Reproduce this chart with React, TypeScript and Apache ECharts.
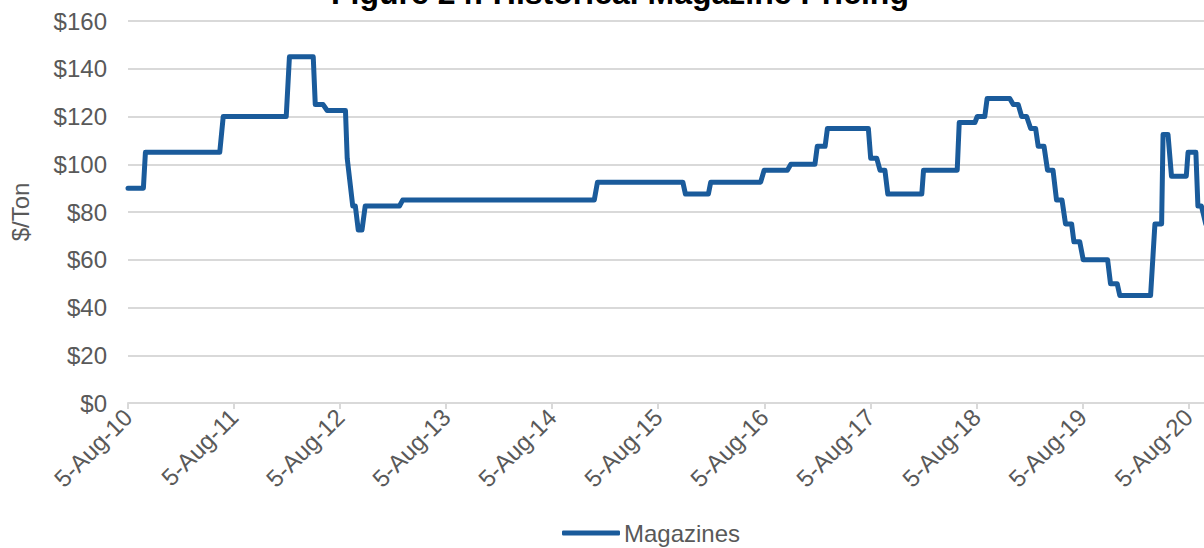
import React, { useEffect, useRef } from "react";
import * as echarts from "echarts";

const titleText = "Figure 24: Historical Magazine Pricing";
const seriesName = "Magazines";
const yAxisName = "$/Ton";
const startDate = "2010-08-05";
const endDate = "2020-09-27";
const xTickLabels = [
  "5-Aug-10", "5-Aug-11", "5-Aug-12", "5-Aug-13", "5-Aug-14", "5-Aug-15",
  "5-Aug-16", "5-Aug-17", "5-Aug-18", "5-Aug-19", "5-Aug-20",
];
const yMin = 0;
const yMax = 160;
const yStep = 20;

const dates = [
  "2010-08-05", "2010-09-27", "2010-10-04", "2011-06-17", "2011-06-29",
  "2012-02-01", "2012-02-12", "2012-05-04", "2012-05-11", "2012-06-07",
  "2012-06-21", "2012-08-23", "2012-08-29", "2012-09-17", "2012-09-26",
  "2012-10-06", "2012-10-19", "2012-10-30", "2013-02-25", "2013-03-08",
  "2014-12-28", "2015-01-08", "2015-10-29", "2015-11-07", "2016-01-25",
  "2016-02-02", "2016-07-23", "2016-08-04", "2016-10-23", "2016-11-04",
  "2017-01-26", "2017-02-03", "2017-03-02", "2017-03-10", "2017-07-29",
  "2017-08-06", "2017-08-27", "2017-09-07", "2017-09-24", "2017-10-04",
  "2018-01-29", "2018-02-04", "2018-05-31", "2018-06-07", "2018-07-31",
  "2018-08-08", "2018-09-03", "2018-09-11", "2018-11-28", "2018-12-10",
  "2018-12-27", "2019-01-08", "2019-01-25", "2019-02-08", "2019-02-25",
  "2019-03-06", "2019-03-26", "2019-04-07", "2019-04-26", "2019-05-08",
  "2019-05-27", "2019-06-08", "2019-06-29", "2019-07-07", "2019-07-27",
  "2019-08-08", "2019-10-31", "2019-11-10", "2019-12-03", "2019-12-12",
  "2020-03-27", "2020-04-11", "2020-05-04", "2020-05-09", "2020-05-26",
  "2020-06-07", "2020-07-28", "2020-08-03", "2020-08-30", "2020-09-06",
  "2020-09-18", "2020-10-03",
];
const prices = [
  90, 90, 105, 105, 120,
  120, 145, 145, 125, 125,
  122.5, 122.5, 102.5, 82.5, 82.5,
  72.5, 72.5, 82.5, 82.5, 85,
  85, 92.5, 92.5, 87.5, 87.5,
  92.5, 92.5, 97.5, 97.5, 100,
  100, 107.5, 107.5, 115, 115,
  102.5, 102.5, 97.5, 97.5, 87.5,
  87.5, 97.5, 97.5, 117.5, 117.5,
  120, 120, 127.5, 127.5, 125,
  125, 120, 120, 115, 115,
  107.5, 107.5, 97.5, 97.5, 85,
  85, 75, 75, 67.5, 67.5,
  60, 60, 50, 50, 45,
  45, 75, 75, 112.5, 112.5,
  95, 95, 105, 105, 82.5,
  82.5, 75,
];

const DAY = 86400000;
const YEAR_DAYS = 365.25;
const toDays = (d: string) => (Date.parse(d + "T00:00:00Z") - Date.parse(startDate + "T00:00:00Z")) / DAY;

export default function App() {
  const ref = useRef<HTMLDivElement>(null);
  useEffect(() => {
    if (!ref.current) return;
    const chart = echarts.init(ref.current, undefined, { renderer: "svg" });
    const font = "'Liberation Sans', Arial, sans-serif";
    const data = dates.map((d, i) => [toDays(d), prices[i]]);
    chart.setOption({
      animation: false,
      backgroundColor: "#ffffff",
      textStyle: { fontFamily: font },
      title: {
        text: titleText,
        left: 331,
        top: -23,
        padding: 0,
        textStyle: { fontFamily: font, fontSize: 32, fontWeight: "bold", color: "#000000" },
      },
      legend: {
        data: [seriesName],
        left: 557,
        top: 516,
        icon: "roundRect",
        itemWidth: 58,
        itemHeight: 5,
        itemGap: 4,
        textStyle: { fontFamily: font, fontSize: 24, color: "#595959", padding: [0, 0, 0, -1] },
      },
      grid: { left: 128, right: 0, top: 21, bottom: 145 },
      xAxis: {
        type: "value",
        min: 0,
        max: toDays(endDate),
        interval: YEAR_DAYS,
        axisLine: { show: true, lineStyle: { color: "#d9d9d9", width: 2 } },
        axisTick: { show: true, length: 6, lineStyle: { color: "#d9d9d9", width: 2 } },
        splitLine: { show: false },
        axisLabel: {
          rotate: 45,
          margin: 10,
          fontSize: 24,
          color: "#595959",
          fontFamily: font,
          showMaxLabel: false,
          formatter: (v: number) => {
            const k = Math.round(v / YEAR_DAYS);
            if (Math.abs(v - k * YEAR_DAYS) > 1) return "";
            return xTickLabels[k] ?? "";
          },
        },
      },
      yAxis: {
        type: "value",
        min: yMin,
        max: yMax,
        interval: yStep,
        name: yAxisName,
        nameLocation: "middle",
        nameGap: 96,
        nameTextStyle: { fontSize: 24, color: "#595959", fontFamily: font },
        axisLine: { show: false },
        axisTick: { show: false },
        splitLine: { lineStyle: { color: "#d9d9d9", width: 2 } },
        axisLabel: {
          margin: 21,
          fontSize: 24,
          color: "#595959",
          fontFamily: font,
          formatter: (v: number) => "$" + v,
        },
      },
      series: [
        {
          name: seriesName,
          type: "line",
          data,
          showSymbol: false,
          symbol: "none",
          clip: true,
          lineStyle: { color: "#1a5b9b", width: 5, cap: "round", join: "round" },
          itemStyle: { color: "#1a5b9b" },
        },
      ],
    });
    return () => chart.dispose();
  }, []);
  return (
    <div
      ref={ref}
      style={{ position: "fixed", left: 0, top: 0, width: 1204, height: 548, background: "#fff" }}
    />
  );
}
